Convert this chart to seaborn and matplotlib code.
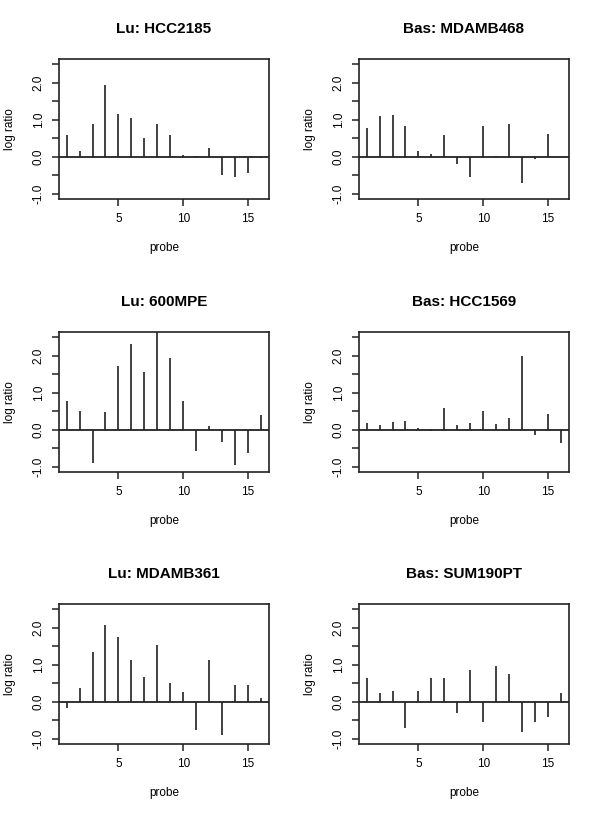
import numpy as np
import pandas as pd
import matplotlib
matplotlib.use("Agg")
import matplotlib.pyplot as plt
import seaborn as sns

# Data: log ratio per probe (1..16) for each cell line
probes = list(range(1, 17))

titles = [
    "Lu: HCC2185", "Bas: MDAMB468",
    "Lu: 600MPE", "Bas: HCC1569",
    "Lu: MDAMB361", "Bas: SUM190PT",
]

lu_hcc2185 = [0.59, 0.15, 0.90, 1.94, 1.17, 1.06, 0.50, 0.88,
              0.59, 0.04, 0.01, 0.23, -0.49, -0.55, -0.45, -0.02]
bas_mdamb468 = [0.79, 1.09, 1.12, 0.83, 0.15, 0.09, 0.60, -0.19,
                -0.54, 0.82, 0.03, 0.89, -0.70, -0.06, 0.63, 0.0]
lu_600mpe = [0.79, 0.50, -0.90, 0.48, 1.73, 2.33, 1.56, 2.80,
             1.94, 0.77, -0.57, 0.09, -0.32, -0.95, -0.63, 0.40]
bas_hcc1569 = [0.19, 0.14, 0.22, 0.25, 0.04, -0.04, 0.58, 0.13,
               0.18, 0.51, 0.16, 0.32, 2.00, -0.15, 0.42, -0.36]
lu_mdamb361 = [-0.16, 0.37, 1.34, 2.08, 1.74, 1.14, 0.67, 1.54,
               0.52, 0.27, -0.76, 1.14, -0.90, 0.45, 0.46, 0.11]
bas_sum190pt = [0.64, 0.24, 0.30, -0.71, 0.28, 0.65, 0.65, -0.30,
                0.87, -0.55, 0.98, 0.76, -0.81, -0.54, -0.41, 0.25]

series = [lu_hcc2185, bas_mdamb468, lu_600mpe,
          bas_hcc1569, lu_mdamb361, bas_sum190pt]

# Style
sns.set_style("white")
plt.rcParams["font.family"] = ["Liberation Sans", "DejaVu Sans"]
plt.rcParams["axes.unicode_minus"] = False
plt.rcParams["text.color"] = "black"
plt.rcParams["axes.labelcolor"] = "black"

fig = plt.figure(figsize=(6, 8.18), dpi=100)

lefts = [0.098, 0.598]
bottoms = [0.7567, 0.423, 0.0905]
w, h = 0.35, 0.171

line_col = "#333333"

for i, (title, vals) in enumerate(zip(titles, series)):
    r, c = divmod(i, 2)
    ax = fig.add_axes([lefts[c], bottoms[r], w, h])
    df = pd.DataFrame({"probe": probes, "log ratio": vals})

    # type="h" style vertical lines
    ax.vlines(df["probe"], 0, df["log ratio"], color=line_col, linewidth=1.3)
    ax.axhline(0, color="#222222", linewidth=1.3)

    ax.set_xlim(0.4, 16.6)
    ax.set_ylim(-1.14, 2.64)
    ax.set_xticks([5, 10, 15])
    ax.set_yticks(np.arange(-1.0, 2.51, 0.5))
    ax.set_yticklabels(["-1.0", "", "0.0", "", "1.0", "", "2.0", ""],
                       rotation=90, va="center")

    ax.tick_params(axis="both", direction="out", length=5, width=1.1,
                   labelsize=8.5, color="#222222", labelcolor="black",
                   pad=5, left=True, bottom=True)
    for sp in ax.spines.values():
        sp.set_visible(True)
        sp.set_color("#222222")
        sp.set_linewidth(1.2)

    ax.set_title(title, fontsize=11, fontweight="bold", pad=19, color="black")
    ax.set_xlabel("probe", fontsize=8.5, labelpad=12)
    ax.set_ylabel("log ratio", fontsize=8.5, labelpad=12)

plt.savefig("out.png", dpi=100)
